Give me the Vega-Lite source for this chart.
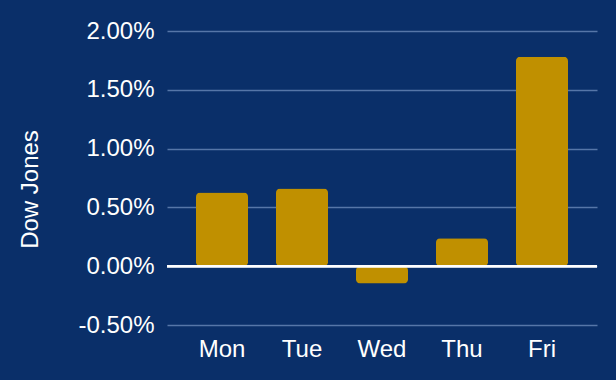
{
  "$schema": "https://vega.github.io/schema/vega-lite/v6.json",
  "width": 430,
  "height": 294,
  "autosize": {"type": "none"},
  "padding": {"left": 167, "top": 31, "right": 19, "bottom": 55},
  "background": "#0a2f69",
  "config": {
    "view": {"stroke": null},
    "font": "Liberation Sans"
  },
  "data": {
    "values": [
      {"day": "Mon", "change": 0.00627},
      {"day": "Tue", "change": 0.00661},
      {"day": "Wed", "change": -0.00147},
      {"day": "Thu", "change": 0.00237},
      {"day": "Fri", "change": 0.0178}
    ]
  },
  "layer": [
    {
      "mark": {"type": "bar", "color": "#c09000", "cornerRadius": 4},
      "encoding": {
        "x": {
          "field": "day",
          "type": "nominal",
          "sort": null,
          "scale": {"paddingInner": 0.35, "paddingOuter": 0.3625},
          "axis": {
            "title": null,
            "labelAngle": 0,
            "labelColor": "#ffffff",
            "labelFontSize": 24,
            "labelPadding": 12,
            "ticks": false,
            "domain": false,
            "grid": false
          }
        },
        "y": {
          "field": "change",
          "type": "quantitative",
          "scale": {"domain": [-0.005, 0.02], "nice": false},
          "axis": {
            "title": "Dow Jones",
            "titleColor": "#ffffff",
            "titleFontSize": 24,
            "titleFontWeight": "normal",
            "titleX": -137,
            "titleY": 158,
            "titleAlign": "center",
            "titleBaseline": "middle",
            "titleAngle": -90,
            "labelExpr": "replace(format(datum.value, '.2%'), '\u2212', '-')",
            "values": [-0.005, 0, 0.005, 0.01, 0.015, 0.02],
            "labelColor": "#ffffff",
            "labelFontSize": 24,
            "labelPadding": 13,
            "ticks": false,
            "domain": false,
            "grid": true,
            "gridColor": "#5676a8",
            "gridWidth": 1.5
          }
        }
      }
    },
    {
      "mark": {"type": "rule", "color": "#ffffff", "strokeWidth": 2},
      "encoding": {"y": {"datum": 0, "type": "quantitative"}}
    }
  ]
}
